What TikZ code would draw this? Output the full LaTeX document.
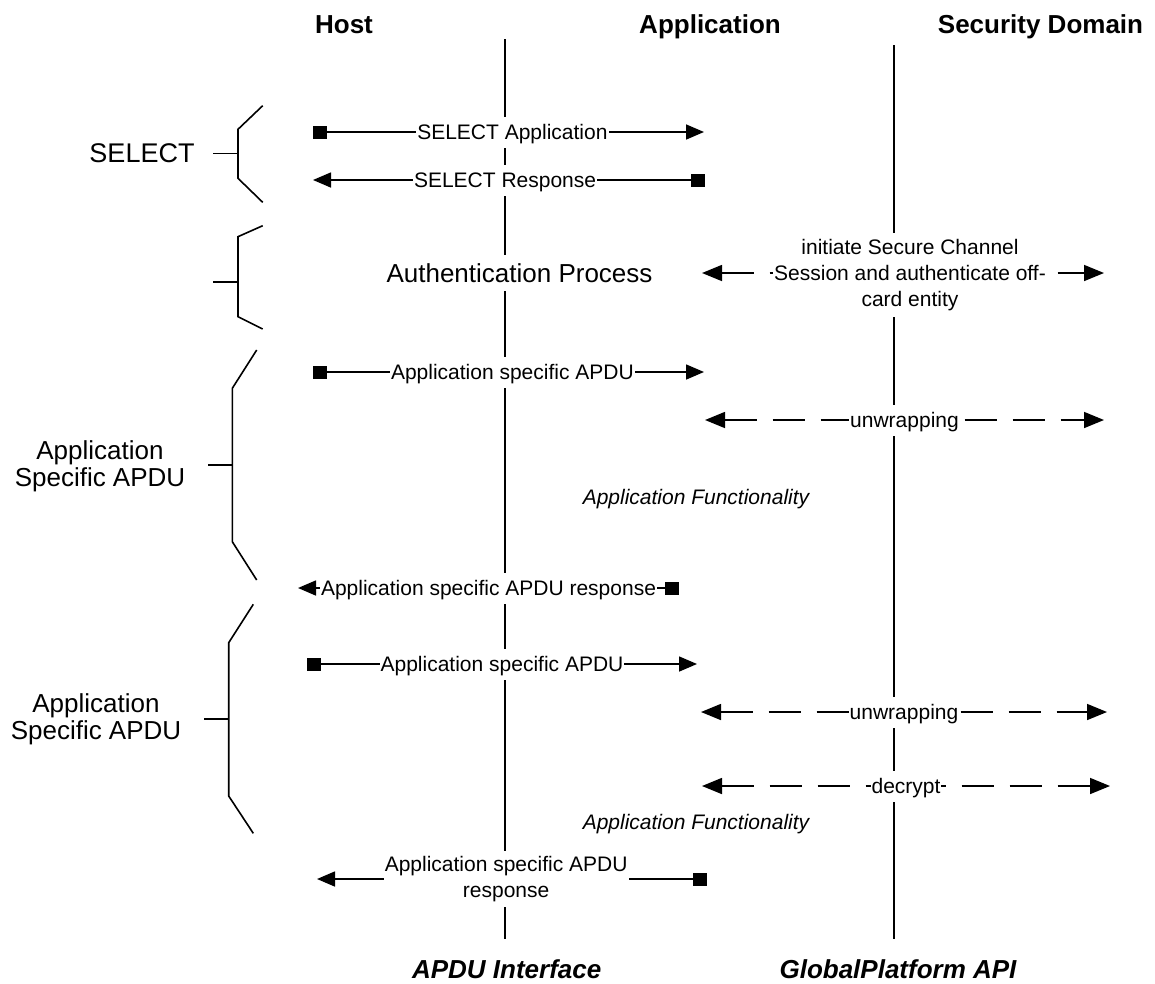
\documentclass[tikz,border=0pt]{standalone}
\usepackage{fontspec}
\setmainfont{Liberation Sans}
\usetikzlibrary{arrows.meta}
\tikzset{
  lifeline/.style={line width=1.7pt},
  msg/.style={line width=1.6pt},
  dmsg/.style={line width=1.6pt, dash pattern=on 32pt off 16pt},
  bracket/.style={line width=1.6pt},
  SqEnd/.tip={Square[length=14pt,width=13pt]},
  TriEnd/.tip={Triangle[length=18pt,width=15pt]},
  DTriEnd/.tip={Triangle[length=20pt,width=16pt]},
  lbl/.style={fill=white, inner xsep=1pt, inner ysep=8pt, text height=15pt, text depth=0pt, font=\fontsize{21}{26}\selectfont},
  mlbl/.style={fill=white, inner xsep=1pt, inner ysep=5pt, align=center, font=\fontsize{21}{26}\selectfont},
  titlelbl/.style={font=\fontsize{26}{30}\selectfont\bfseries, anchor=base},
  footlbl/.style={font=\fontsize{26}{30}\selectfont\bfseries\itshape, anchor=base},
  phaselbl/.style={font=\fontsize{26}{26.7}\selectfont, align=center},
  funclbl/.style={font=\fontsize{21}{26}\selectfont\itshape, text height=15pt, text depth=0pt, inner sep=0pt},
}
\begin{document}
\begin{tikzpicture}[x=1pt,y=-1pt]
\useasboundingbox (0,0) rectangle (1155,983);

% lifelines
\coordinate (apT) at (505,39);
\coordinate (apB) at (505,939);
\coordinate (sdT) at (894,45);
\coordinate (sdB) at (894,939);
\draw[lifeline] (apT) -- (apB);
\draw[lifeline] (sdT) -- (sdB);

% titles
\node[titlelbl] (tHost) at (344,33) {Host};
\node[titlelbl] (tApp) at (710,33) {Application};
\node[titlelbl] (tSD) at (1040.5,33) {Security Domain};
\node[footlbl] (fAPDU) at (506.7,978) {APDU Interface};
\node[footlbl] (fGP) at (898,978) {GlobalPlatform API};

% brackets on the left
\coordinate (b1a) at (262.7,105.7); \coordinate (b1b) at (238,129.3);
\coordinate (b1c) at (238,178.3);   \coordinate (b1d) at (262.7,202.3);
\coordinate (b1t) at (213.3,153.3); \coordinate (b1m) at (238,153.3);
\draw[bracket] (b1a) -- (b1b) -- (b1c) -- (b1d);
\draw[bracket] (b1t) -- (b1m);
\node[phaselbl] (pSel) at (142,153.3) {\fontsize{27}{28}\selectfont SELECT};

\coordinate (b2a) at (262.7,225.7); \coordinate (b2b) at (238,236.7);
\coordinate (b2c) at (238,316.7);   \coordinate (b2d) at (262.7,329);
\coordinate (b2t) at (213.3,282.3); \coordinate (b2m) at (238,282.3);
\draw[bracket] (b2a) -- (b2b) -- (b2c) -- (b2d);
\draw[bracket, line width=1.9pt] (b2t) -- (b2m);

\coordinate (b3a) at (256.7,350);   \coordinate (b3b) at (232.3,388.3);
\coordinate (b3c) at (232.3,541.7); \coordinate (b3d) at (256.7,580);
\coordinate (b3t) at (208.3,465);   \coordinate (b3m) at (232.3,465);
\draw[bracket] (b3a) -- (b3b) -- (b3c) -- (b3d);
\draw[bracket] (b3t) -- (b3m);
\node[phaselbl] (pApp1) at (100,466) {Application\\Specific APDU};

\coordinate (b4a) at (253.3,604.3); \coordinate (b4b) at (228.7,642.7);
\coordinate (b4c) at (228.7,796);   \coordinate (b4d) at (253.3,833.3);
\coordinate (b4t) at (204,719);     \coordinate (b4m) at (228.7,719);
\draw[bracket] (b4a) -- (b4b) -- (b4c) -- (b4d);
\draw[bracket] (b4t) -- (b4m);
\node[phaselbl] (pApp2) at (96,719.5) {Application\\Specific APDU};

% SELECT
\coordinate (m1a) at (313,132); \coordinate (m1b) at (704,132);
\draw[msg, {SqEnd}-{TriEnd}] (m1a) -- node[lbl, pos=0.51] (l1) {SELECT Application} (m1b);
\coordinate (m2a) at (705,180); \coordinate (m2b) at (313,180);
\draw[msg, {SqEnd}-{TriEnd}] (m2a) -- node[lbl, pos=0.51] (l2) {SELECT Response} (m2b);

% authentication
\node[fill=white, inner xsep=1pt, inner ysep=9pt, text height=18.7pt, text depth=0pt,
      font=\fontsize{26}{30}\selectfont] (auth) at (519.5,273) {Authentication Process};
\coordinate (m3a) at (702,273); \coordinate (m3b) at (1104,273);
\draw[dmsg, {DTriEnd}-{DTriEnd}] (m3a) -- (m3b);
\node[mlbl, inner ysep=6.5pt] (l3) at (910,275) {initiate Secure Channel\\Session and authenticate off-\\card entity};

% first application specific APDU
\coordinate (m4a) at (313,372); \coordinate (m4b) at (704,372);
\draw[msg, {SqEnd}-{TriEnd}] (m4a) -- node[lbl, pos=0.51] (l4) {Application specific APDU} (m4b);
\coordinate (m5a) at (705,420); \coordinate (m5b) at (1104,420);
\draw[dmsg, {DTriEnd}-{DTriEnd}] (m5a) -- node[lbl] (l5) {unwrapping} (m5b);
\node[funclbl] (af1) at (696,497) {Application Functionality};
\coordinate (m6a) at (679,588); \coordinate (m6b) at (298,588);
\draw[msg, {SqEnd}-{TriEnd}] (m6a) -- node[lbl] (l6) {Application specific APDU response} (m6b);

% second application specific APDU
\coordinate (m7a) at (307,664); \coordinate (m7b) at (697,664);
\draw[msg, {SqEnd}-{TriEnd}] (m7a) -- node[lbl] (l7) {Application specific APDU} (m7b);
\coordinate (m8a) at (701,712); \coordinate (m8b) at (1107,712);
\draw[dmsg, {DTriEnd}-{DTriEnd}] (m8a) -- node[lbl] (l8) {unwrapping} (m8b);
\coordinate (m9a) at (702,786); \coordinate (m9b) at (1110,786);
\draw[dmsg, {DTriEnd}-{DTriEnd}] (m9a) -- node[lbl] (l9) {decrypt} (m9b);
\node[funclbl] (af2) at (696,822) {Application Functionality};
\coordinate (m10a) at (707,879); \coordinate (m10b) at (317,879);
\draw[msg, {SqEnd}-{TriEnd}] (m10a) -- node[mlbl, pos=0.515] (l10) {Application specific APDU\\response} (m10b);
\end{tikzpicture}
\end{document}
